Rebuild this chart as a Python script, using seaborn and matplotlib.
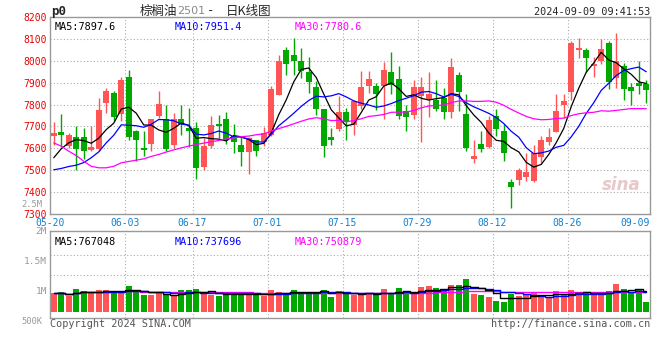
import numpy as np
import pandas as pd
import matplotlib
matplotlib.use("Agg")
import matplotlib.pyplot as plt
import seaborn as sns

# trading days 05-20 .. 09-09 (06-10 holiday)
days = pd.bdate_range("2024-05-20", "2024-09-09")
days = days[days != pd.Timestamp("2024-06-10")]
day_labels = [d.strftime("%m-%d") for d in days]
tick_dates = ["05-20", "06-03", "06-17", "07-01", "07-15", "07-29", "08-12", "08-26", "09-09"]

open_ = [7656, 7674, 7610, 7654, 7650, 7593, 7595, 7806, 7855, 7758,
         7925, 7681, 7600, 7621, 7747, 7732, 7615, 7732, 7694, 7691,
         7513, 7610, 7713, 7736, 7656, 7613, 7584, 7636, 7630, 7660,
         7843, 8047, 8028, 8001, 7949, 7882, 7780, 7653, 7688, 7767,
         7706, 7793, 7887, 7887, 7887, 7951, 7919, 7771, 7752, 7838,
         7823, 7820, 7829, 7767, 7933, 7759, 7551, 7622, 7607, 7750,
         7677, 7447, 7455, 7471, 7450, 7560, 7628, 7674, 7799, 7858,
         8050, 8047, 7974, 7998, 8079, 7920, 7974, 7882, 7899, 7895]
high = [7720, 7759, 7668, 7701, 7694, 7704, 7831, 7875, 7860, 7925,
        7957, 7685, 7681, 7736, 7860, 7800, 7761, 7800, 7782, 7721,
        7648, 7750, 7752, 7767, 7712, 7656, 7650, 7636, 7697, 7887,
        8028, 8065, 8105, 8059, 8018, 7907, 7780, 7694, 7838, 7785,
        7823, 7955, 7955, 7899, 7993, 8039, 7978, 7797, 7911, 7925,
        7949, 7910, 7876, 8013, 7951, 7846, 7640, 7678, 7747, 7780,
        7709, 7462, 7511, 7580, 7614, 7656, 7695, 7846, 7850, 8089,
        8105, 8060, 8016, 8098, 8089, 8129, 7990, 7899, 8001, 7910]
low = [7617, 7605, 7600, 7500, 7549, 7587, 7590, 7761, 7724, 7724,
       7639, 7541, 7564, 7587, 7739, 7587, 7602, 7660, 7607, 7459,
       7499, 7602, 7648, 7621, 7578, 7519, 7484, 7564, 7610, 7656,
       7843, 7934, 7934, 7922, 7851, 7751, 7560, 7614, 7679, 7637,
       7663, 7780, 7853, 7773, 7732, 7846, 7732, 7678, 7732, 7628,
       7742, 7770, 7735, 7739, 7770, 7587, 7532, 7582, 7602, 7656,
       7541, 7328, 7432, 7453, 7446, 7532, 7613, 7674, 7739, 7820,
       8013, 7949, 7925, 7983, 7869, 7876, 7823, 7797, 7850, 7806]
close = [7668, 7662, 7663, 7596, 7587, 7608, 7777, 7860, 7742, 7910,
         7650, 7640, 7592, 7736, 7802, 7596, 7732, 7713, 7681, 7508,
         7612, 7707, 7703, 7639, 7631, 7583, 7645, 7587, 7668, 7869,
         7998, 7986, 7998, 7952, 7901, 7780, 7610, 7637, 7768, 7719,
         7818, 7878, 7919, 7846, 7960, 7891, 7747, 7742, 7882, 7882,
         7850, 7779, 7767, 7971, 7856, 7602, 7567, 7596, 7730, 7688,
         7578, 7423, 7500, 7490, 7580, 7640, 7650, 7771, 7814, 8079,
         8060, 8013, 7986, 8056, 7902, 7998, 7873, 7861, 7884, 7866]
volume = [962, 988, 917, 1033, 1000, 978, 1017, 1012, 972, 1000,
          1083, 978, 933, 933, 962, 945, 922, 1017, 1017, 1033,
          955, 938, 917, 945, 983, 950, 938, 933, 922, 1017,
          988, 962, 1017, 962, 983, 983, 1017, 905, 1000, 950,
          938, 967, 945, 967, 1033, 950, 1050, 972, 950, 1067,
          1083, 1050, 1005, 1100, 1100, 1200, 950, 933, 900, 833,
          822, 955, 917, 928, 967, 917, 905, 1000, 938, 1017,
          962, 962, 945, 938, 1005, 1117, 1033, 978, 1017, 822]

# moving averages at the left edge need days before the window
ma5_head = [7557, 7598, 7625, 7640]
ma10_head = [7502, 7508, 7517, 7523, 7535, 7557, 7584, 7625, 7660]
ma30_head = [7625, 7610, 7587, 7567, 7541, 7518, 7511, 7511, 7518, 7534,
             7540, 7546, 7552, 7563, 7572, 7583, 7593, 7602, 7610, 7617,
             7624, 7630, 7636, 7643, 7648, 7653, 7656, 7662, 7666]

df = pd.DataFrame({"open": open_, "high": high, "low": low, "close": close,
                   "vol": np.array(volume) * 1000})
df["x"] = np.arange(len(df))
df["ma5"] = df["close"].rolling(5).mean()
df["ma10"] = df["close"].rolling(10).mean()
df["ma30"] = df["close"].rolling(30).mean()
df.loc[:len(ma5_head) - 1, "ma5"] = ma5_head
df.loc[:len(ma10_head) - 1, "ma10"] = ma10_head
df.loc[:len(ma30_head) - 1, "ma30"] = ma30_head
df["vma5"] = df["vol"].rolling(5, min_periods=1).mean()
df["vma10"] = df["vol"].rolling(10, min_periods=1).mean()
df["vma30"] = df["vol"].rolling(30, min_periods=1).mean()

RED = "#ff5555"
GREEN = "#00a800"
up = df["close"] >= df["open"]
colors = np.where(up, RED, GREEN)

sns.set_theme(style="white")
plt.rcParams["font.family"] = ["DejaVu Sans Mono", "Noto Sans CJK SC"]

W, H = 660, 360
fig = plt.figure(figsize=(6.6, 3.6), dpi=100)
ax = fig.add_axes([50 / W, 1 - 214 / H, 600 / W, 197 / H])
axv = fig.add_axes([50 / W, 1 - 318 / H, 600 / W, 87 / H])

tick_idx = [day_labels.index(t) for t in tick_dates]
grid_kw = dict(color="#aaaaaa", lw=0.8, ls=(0, (1, 2)), zorder=0)

# --- price panel
for t in tick_idx[1:-1]:
    ax.axvline(t - 0.5, **grid_kw)
for p in range(7400, 8200, 100):
    ax.axhline(p, **grid_kw)

ax.vlines(df["x"], df["low"], df["high"], colors=colors, lw=1, zorder=2)
body = (df["close"] - df["open"]).abs().clip(lower=2)
ax.bar(df["x"], body, bottom=df[["open", "close"]].min(axis=1), width=0.78,
       color=colors, linewidth=0, zorder=3)

sns.lineplot(data=df, x="x", y="ma5", ax=ax, color="black", lw=0.9, zorder=4)
sns.lineplot(data=df, x="x", y="ma10", ax=ax, color="#0000ff", lw=0.9, zorder=4)
sns.lineplot(data=df, x="x", y="ma30", ax=ax, color="#ff00ff", lw=0.9, zorder=4)

ax.set_xlim(-0.5, len(df) - 0.5)
ax.set_ylim(7300, 8200)
ax.set_yticks(range(7300, 8300, 100))
ax.set_xticks([t - 0.5 for t in tick_idx[:-1]] + [len(df) - 0.5])
ax.set_xticklabels(tick_dates)
ax.get_xticklabels()[-1].set_ha("right")
ax.tick_params(axis="y", colors="#ee0000", labelsize=7, length=0, pad=2)
ax.tick_params(axis="x", colors="#1080d0", labelsize=7, length=0, pad=3)
ax.set_xlabel("")
ax.set_ylabel("")

ax.text(0.008, 0.975, "MA5:7897.6", transform=ax.transAxes, fontsize=7.3, color="black", va="top")
ax.text(0.208, 0.975, "MA10:7951.4", transform=ax.transAxes, fontsize=7.3, color="#0000ff", va="top")
ax.text(0.408, 0.975, "MA30:7780.6", transform=ax.transAxes, fontsize=7.3, color="#ff00ff", va="top")
ax.text(0.985, 0.12, "sina", transform=ax.transAxes, fontsize=12, color="#e8c8c8",
        ha="right", style="italic", fontweight="bold", family="DejaVu Sans", zorder=1)

# --- volume panel
for t in tick_idx[1:-1]:
    axv.axvline(t - 0.5, **grid_kw)
for v in [1.6e6, 1.27e6]:
    axv.axhline(v, **grid_kw)

vol_base = 0.65e6
axv.bar(df["x"], df["vol"] - vol_base, bottom=vol_base, width=0.8, color=colors,
        linewidth=0, zorder=2)
for col, c in [("vma30", "#ff00ff"), ("vma10", "#0000ff"), ("vma5", "black")]:
    axv.plot(df["x"], df[col], color=c, lw=1, drawstyle="steps-mid", zorder=3)

axv.set_xlim(-0.5, len(df) - 0.5)
axv.set_ylim(0.55e6, 2.0e6)
axv.set_yticks([1e6, 1.5e6, 2e6])
axv.set_yticklabels(["1M", "1.5M", "2M"])
axv.set_xticks([])
axv.tick_params(axis="y", colors="#999999", labelsize=6.8, length=0, pad=2)
for lab, v, dy in [("500K", 0.5e6, 0), ("2.5M", 2.5e6, -2.5)]:
    axv.annotate(lab, xy=(-0.012, v), xycoords=axv.get_yaxis_transform(),
                 xytext=(0, dy), textcoords="offset points", ha="right",
                 va="center", fontsize=6.3, color="#999999", annotation_clip=False)

axv.text(0.008, 0.93, "MA5:767048", transform=axv.transAxes, fontsize=7.3, color="black", va="top")
axv.text(0.208, 0.93, "MA10:737696", transform=axv.transAxes, fontsize=7.3, color="#0000ff", va="top")
axv.text(0.408, 0.93, "MA30:750879", transform=axv.transAxes, fontsize=7.3, color="#ff00ff", va="top")

for a in (ax, axv):
    for s in a.spines.values():
        s.set_color("#999999")
        s.set_linewidth(1)


def fx(x, y):
    return x / W, 1 - y / H


fig.text(*fx(51, 11), "p0", fontsize=9, fontweight="bold", va="center")
fig.text(*fx(140, 11), "棕榈油", fontsize=9, family="Noto Sans CJK SC", va="center")
fig.text(*fx(177, 11), "2501", fontsize=8, color="#888888", family="DejaVu Sans", va="center")
fig.text(*fx(207, 11), "-", fontsize=9, va="center")
fig.text(*fx(226, 11), "日K线图", fontsize=9, family="Noto Sans CJK SC", va="center")
fig.text(*fx(650, 12), "2024-09-09 09:41:53", fontsize=7.3, ha="right", va="center")
fig.text(*fx(50, 324), "Copyright 2024 SINA.COM", fontsize=7.3, color="#555555", va="center")
fig.text(*fx(650, 324), "http://finance.sina.com.cn", fontsize=7.3, color="#555555",
         ha="right", va="center")

fig.savefig("out.png", dpi=100, facecolor="white")
